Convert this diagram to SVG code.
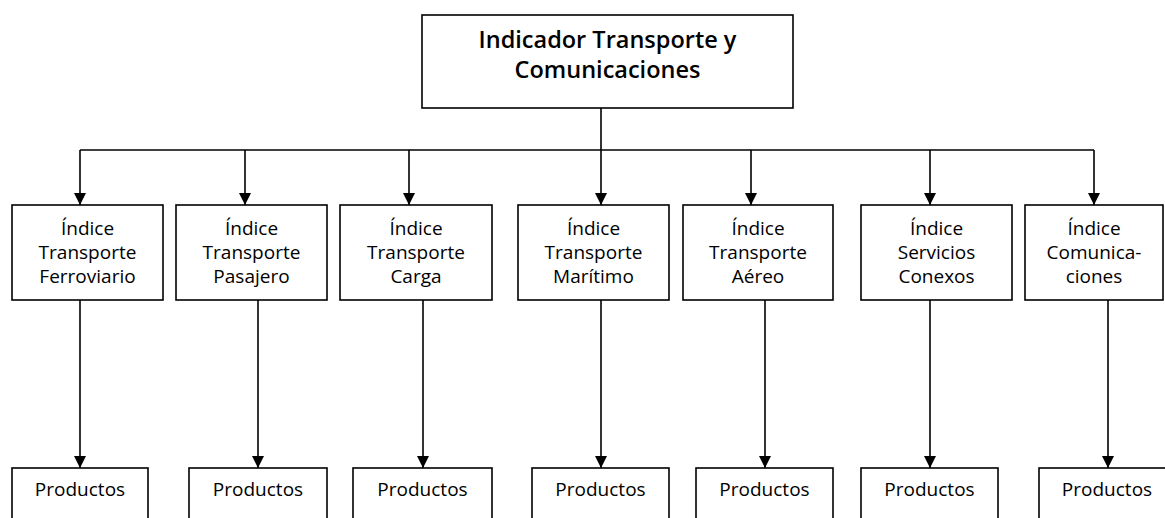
<svg xmlns="http://www.w3.org/2000/svg" width="1165" height="518" viewBox="0 0 1165 518">
<defs>
<style>
.box{fill:#fff;stroke:#000;stroke-width:1.6}
.ln{fill:none;stroke:#000;stroke-width:1.6}
.t{font-family:"Open Sans","Noto Sans","Liberation Sans",sans-serif;font-size:19px;fill:#000;text-anchor:middle}
.h{font-family:"Open Sans","Noto Sans","Liberation Sans",sans-serif;font-size:23.5px;font-weight:600;fill:#000;text-anchor:middle}
</style>
<marker id="arr" viewBox="0 0 12 12" markerWidth="12" markerHeight="12" refX="12" refY="6" orient="auto" markerUnits="userSpaceOnUse">
<path d="M0,0 L12,6 L0,12 Z" fill="#000"/>
</marker>
</defs>
<rect width="1165" height="518" fill="#fff"/>
<g id="connectors">
<path class="ln" d="M601,108 V150"/>
<path class="ln" d="M80,150 H1094"/>
<path class="ln" d="M80,150 V205" marker-end="url(#arr)"/>
<path class="ln" d="M245,150 V205" marker-end="url(#arr)"/>
<path class="ln" d="M409,150 V205" marker-end="url(#arr)"/>
<path class="ln" d="M601,150 V205" marker-end="url(#arr)"/>
<path class="ln" d="M751,150 V205" marker-end="url(#arr)"/>
<path class="ln" d="M930,150 V205" marker-end="url(#arr)"/>
<path class="ln" d="M1094,150 V205" marker-end="url(#arr)"/>
<path class="ln" d="M80,300 V468" marker-end="url(#arr)"/>
<path class="ln" d="M258,300 V468" marker-end="url(#arr)"/>
<path class="ln" d="M423,300 V468" marker-end="url(#arr)"/>
<path class="ln" d="M601,300 V468" marker-end="url(#arr)"/>
<path class="ln" d="M765,300 V468" marker-end="url(#arr)"/>
<path class="ln" d="M930,300 V468" marker-end="url(#arr)"/>
<path class="ln" d="M1108,300 V468" marker-end="url(#arr)"/>
</g>
<g id="root">
<rect class="box" x="422" y="15" width="371" height="93"/>
<text class="h" x="607.5" y="48">Indicador Transporte y</text>
<text class="h" x="607.5" y="78">Comunicaciones</text>
</g>
<g id="idx1">
<rect class="box" x="12" y="205" width="151" height="95"/>
<text class="t" x="87.5" y="235">Índice</text>
<text class="t" x="87.5" y="259">Transporte</text>
<text class="t" x="87.5" y="283">Ferroviario</text>
</g>
<g id="idx2">
<rect class="box" x="176" y="205" width="151" height="95"/>
<text class="t" x="251.5" y="235">Índice</text>
<text class="t" x="251.5" y="259">Transporte</text>
<text class="t" x="251.5" y="283">Pasajero</text>
</g>
<g id="idx3">
<rect class="box" x="340" y="205" width="152" height="95"/>
<text class="t" x="416" y="235">Índice</text>
<text class="t" x="416" y="259">Transporte</text>
<text class="t" x="416" y="283">Carga</text>
</g>
<g id="idx4">
<rect class="box" x="518" y="205" width="151" height="95"/>
<text class="t" x="593.5" y="235">Índice</text>
<text class="t" x="593.5" y="259">Transporte</text>
<text class="t" x="593.5" y="283">Marítimo</text>
</g>
<g id="idx5">
<rect class="box" x="683" y="205" width="150" height="95"/>
<text class="t" x="758" y="235">Índice</text>
<text class="t" x="758" y="259">Transporte</text>
<text class="t" x="758" y="283">Aéreo</text>
</g>
<g id="idx6">
<rect class="box" x="861" y="205" width="151" height="95"/>
<text class="t" x="936.5" y="235">Índice</text>
<text class="t" x="936.5" y="259">Servicios</text>
<text class="t" x="936.5" y="283">Conexos</text>
</g>
<g id="idx7">
<rect class="box" x="1025" y="205" width="138" height="95"/>
<text class="t" x="1094" y="235">Índice</text>
<text class="t" x="1094" y="259">Comunica-</text>
<text class="t" x="1094" y="283">ciones</text>
</g>
<g id="prod1"><rect class="box" x="12" y="468" width="136" height="60"/><text class="t" x="80" y="496">Productos</text></g>
<g id="prod2"><rect class="box" x="189" y="468" width="138" height="60"/><text class="t" x="258" y="496">Productos</text></g>
<g id="prod3"><rect class="box" x="353" y="468" width="139" height="60"/><text class="t" x="422.5" y="496">Productos</text></g>
<g id="prod4"><rect class="box" x="532" y="468" width="137" height="60"/><text class="t" x="600.5" y="496">Productos</text></g>
<g id="prod5"><rect class="box" x="696" y="468" width="137" height="60"/><text class="t" x="764.5" y="496">Productos</text></g>
<g id="prod6"><rect class="box" x="861" y="468" width="137" height="60"/><text class="t" x="929.5" y="496">Productos</text></g>
<g id="prod7"><rect class="box" x="1039" y="468" width="137" height="60"/><text class="t" x="1107" y="496">Productos</text></g>
</svg>
